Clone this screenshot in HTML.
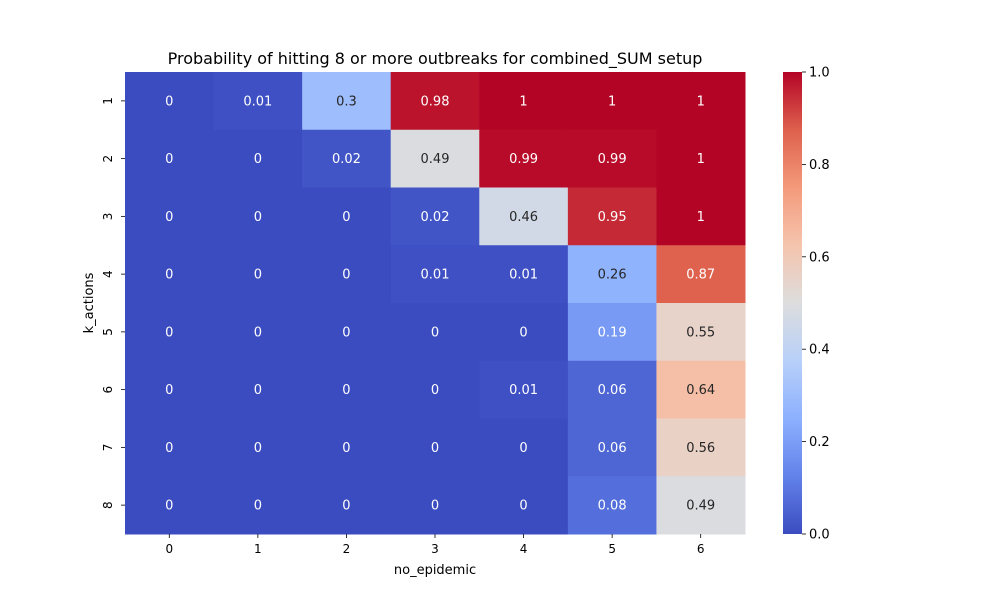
<!DOCTYPE html>
<html><head><meta charset="utf-8"><style>
body{margin:0;background:#fff;font-family:"Liberation Sans","DejaVu Sans",sans-serif}
svg text{font-family:"DejaVu Sans","Liberation Sans",sans-serif}
</style></head><body>
<svg id="c" width="1000" height="600" xmlns="http://www.w3.org/2000/svg">
<defs><linearGradient id="g" x1="0" y1="1" x2="0" y2="0">
<stop offset="0" stop-color="rgb(59,76,192)"/><stop offset="0.125" stop-color="rgb(98,130,234)"/><stop offset="0.25" stop-color="rgb(141,176,254)"/><stop offset="0.375" stop-color="rgb(184,208,249)"/><stop offset="0.5" stop-color="rgb(221,221,221)"/><stop offset="0.625" stop-color="rgb(245,196,173)"/><stop offset="0.75" stop-color="rgb(244,154,123)"/><stop offset="0.875" stop-color="rgb(222,96,77)"/><stop offset="1" stop-color="rgb(180,4,38)"/></linearGradient></defs>
</svg>
<script>
const xCats=[0,1,2,3,4,5,6];
const yCats=[1,2,3,4,5,6,7,8];
const values=[
[0,0.01,0.3,0.98,1,1,1],
[0,0,0.02,0.49,0.99,0.99,1],
[0,0,0,0.02,0.46,0.95,1],
[0,0,0,0.01,0.01,0.26,0.87],
[0,0,0,0,0,0.19,0.55],
[0,0,0,0,0.01,0.06,0.64],
[0,0,0,0,0,0.06,0.56],
[0,0,0,0,0,0.08,0.49]];
const cbTicks=[0,0.2,0.4,0.6,0.8,1.0];
const stops=[[59,76,192],[98,130,234],[141,176,254],[184,208,249],[221,221,221],[245,196,173],[244,154,123],[222,96,77],[180,4,38]];
function cmap(v){v=Math.max(0,Math.min(1,v));const p=v*8,i=Math.min(7,Math.floor(p)),f=p-i;return stops[i].map((a,k)=>Math.round(a+(stops[i+1][k]-a)*f));}
function lum(c){const l=c.map(x=>{x/=255;return x<=0.03928?x/12.92:Math.pow((x+0.055)/1.055,2.4)});return 0.2126*l[0]+0.7152*l[1]+0.0722*l[2];}
const L=125,R=745,T=72,B=534,cw=(R-L)/xCats.length,ch=(B-T)/yCats.length;
const xs=i=>L+i*cw, ys=j=>T+j*ch;
const svg=document.getElementById('c'),NS='http://www.w3.org/2000/svg';
function el(t,a,txt){const e=document.createElementNS(NS,t);for(const k in a)e.setAttribute(k,a[k]);if(txt!==undefined)e.textContent=txt;svg.appendChild(e);return e;}
values.forEach((row,j)=>row.forEach((v,i)=>{
 const c=cmap(v);
 const r=el('rect',{x:xs(i),y:ys(j),width:cw+0.5,height:ch+0.5,fill:`rgb(${c})`});
 
 
 const t=el('text',{x:xs(i)+cw/2,y:ys(j)+ch/2+4.5,'text-anchor':'middle','font-size':13,fill:lum(c)>0.38?'#262626':'#ffffff'},String(v));
 
 
}));
xCats.forEach((c,i)=>{const x=xs(i)+cw/2;el('line',{x1:x,x2:x,y1:B,y2:B+4,stroke:'#000','stroke-width':0.8});
 const t=el('text',{x:x,y:B+19,'text-anchor':'middle','font-size':12},String(c));
 
 });
yCats.forEach((c,j)=>{const y=ys(j)+ch/2;el('line',{x1:L-4,x2:L,y1:y,y2:y,stroke:'#000','stroke-width':0.8});
 const t=el('text',{x:0,y:0,'text-anchor':'middle','font-size':12,transform:`translate(${L-13},${y}) rotate(-90)`},String(c));
 
 });
let t=el('text',{x:435,y:64,'text-anchor':'middle','font-size':16},'Probability of hitting 8 or more outbreaks for combined_SUM setup');

t=el('text',{x:435,y:574,'text-anchor':'middle','font-size':13},'no_epidemic');

t=el('text',{x:0,y:0,'text-anchor':'middle','font-size':13,transform:`translate(93,${(T+B)/2}) rotate(-90)`},'k_actions');

const CL=783,CR=802;
const cb=el('rect',{x:CL,y:T,width:CR-CL,height:B-T,fill:'url(#g)'});

cbTicks.forEach(v=>{const y=B-v*(B-T);el('line',{x1:CR,x2:CR+4,y1:y,y2:y,stroke:'#000','stroke-width':0.8});
 const tt=el('text',{x:CR+7,y:y+4.5,'font-size':13},v.toFixed(1));
 });
</script>
</body></html>
